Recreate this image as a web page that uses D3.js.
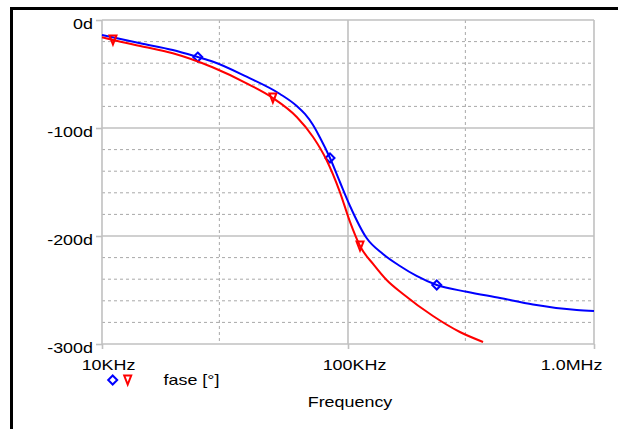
<!DOCTYPE html>
<html>
<head>
<meta charset="utf-8">
<script src="https://cdn.jsdelivr.net/npm/d3@7"></script>
<style>
  html, body { margin: 0; padding: 0; background: #fff; }
  svg { display: block; }
  text { font-family: Arial, "Liberation Sans", sans-serif; fill: #000; }
</style>
</head>
<body>
<svg id="chart" width="618" height="429"></svg>
<script>
// Frequency response phase (degrees) of two circuits
const blueFreq  = [10000, 14300, 19400, 24500, 28300, 38700, 52900, 61900, 66800, 72100, 76900, 84500, 92700, 101900, 119000, 138700, 162600, 190000, 229500, 303800, 415000, 565000, 851000, 1000000];
const bluePhase = [-13.9, -21.6, -27.8, -34.3, -38.6, -52.5, -68.5, -79.6, -87.0, -97.2, -108.8, -127.8, -150.0, -172.2, -201.9, -216.7, -227.8, -237.0, -245.4, -251.6, -257.4, -263.4, -268.5, -269.4];
const blueMarks = [24500, 84500, 229500];

const redFreq  = [10000, 11080, 14300, 19400, 28300, 38700, 49500, 61900, 72100, 81800, 92700, 101900, 111900, 127600, 143600, 167400, 221600, 285000, 354000];
const redPhase = [-16.0, -18.5, -24.1, -30.8, -44.0, -58.6, -72.2, -89.8, -108.3, -129.6, -159.3, -187.0, -209.3, -226.9, -240.7, -253.7, -274.1, -288.9, -298.1];
const redMarks = [11080, 49500, 111900];

const xMajor = [1e4, 1e5, 1e6];
const xMajorLabels = ["10KHz", "100KHz", "1.0MHz"];
const xMinor = [3e4, 3e5];
const yMajor = [0, -100, -200, -300];
const yMajorLabels = ["0d", "-100d", "-200d", "-300d"];
const yMinor = [-20, -40, -60, -80, -120, -140, -160, -180, -220, -240, -260, -280];

const legendLabel = "fase [°]";
const xTitle = "Frequency";

const series = [
  { freq: blueFreq, phase: bluePhase, marks: blueMarks, color: "#0000ff", shape: "diamond" },
  { freq: redFreq,  phase: redPhase,  marks: redMarks,  color: "#ff0000", shape: "triangle" }
];

const svg = d3.select("#chart");
const pL = 102, pR = 594, pT = 20, pB = 344;
const SX = 1.28;   // horizontal stretch of the label glyphs
const FS = 14;

const x = d3.scaleLog().domain([1e4, 1e6]).range([pL, pR]);
const y = d3.scaleLinear().domain([0, -300]).range([pT, pB]);

// outer black frame (left and top edges)
svg.append("path")
  .attr("d", "M11.5,429V8.5H618")
  .attr("fill", "none").attr("stroke", "#000").attr("stroke-width", 3);

const grid = svg.append("g");
// dotted minor grid
grid.selectAll("line.hmin").data(yMinor).join("line")
  .attr("x1", pL).attr("x2", pR)
  .attr("y1", d => y(d)).attr("y2", d => y(d))
  .attr("stroke", "#a8a8a8").attr("stroke-width", 1).attr("stroke-dasharray", "3,3");
grid.selectAll("line.vmin").data(xMinor).join("line")
  .attr("x1", d => x(d)).attr("x2", d => x(d))
  .attr("y1", pT).attr("y2", pB)
  .attr("stroke", "#a8a8a8").attr("stroke-width", 1).attr("stroke-dasharray", "3,3");

// solid major grid
grid.selectAll("line.hmaj").data(yMajor).join("line")
  .attr("x1", pL).attr("x2", pR)
  .attr("y1", d => y(d)).attr("y2", d => y(d))
  .attr("stroke", "#c0c0c0").attr("stroke-width", 1.6);
grid.selectAll("line.vmaj").data(xMajor).join("line")
  .attr("x1", d => x(d)).attr("x2", d => x(d))
  .attr("y1", pT).attr("y2", pB)
  .attr("stroke", "#c0c0c0").attr("stroke-width", 1.6);

// axes
const yAxis = d3.axisLeft(y).tickValues(yMajor).tickSize(6).tickFormat((d, i) => yMajorLabels[i]);
const gy = svg.append("g").attr("transform", `translate(${pL},0)`).call(yAxis);
gy.select(".domain").remove();
gy.selectAll(".tick line").attr("stroke", "#c0c0c0").attr("stroke-width", 1.6);
gy.selectAll(".tick text")
  .attr("x", null).attr("dy", null)
  .attr("font-size", FS).attr("text-anchor", "end")
  .attr("transform", `translate(-9,8.5) scale(${SX},1)`);

const xAxis = d3.axisBottom(x).tickValues(xMajor).tickSize(5).tickFormat((d, i) => xMajorLabels[i]);
const gx = svg.append("g").attr("transform", `translate(0,${pB})`).call(xAxis);
gx.select(".domain").remove();
gx.selectAll(".tick line").attr("stroke", "#c0c0c0").attr("stroke-width", 1.6);
gx.selectAll(".tick text")
  .attr("y", null).attr("dy", null)
  .attr("font-size", FS)
  .attr("text-anchor", (d, i) => i === xMajor.length - 1 ? "end" : "middle")
  .attr("transform", (d, i) => i === xMajor.length - 1
      ? `translate(8,26) scale(${SX},1)`
      : `translate(6,26) scale(${SX},1)`);

// marker shapes
function markerPath(shape, cx, cy) {
  if (shape === "diamond") {
    const r = 4.5;
    return `M${cx},${cy - r}L${cx + r},${cy}L${cx},${cy + r}L${cx - r},${cy}Z`;
  }
  const w = 3.5, h = 4.5;
  return `M${cx - w},${cy - h}L${cx + w},${cy - h}L${cx},${cy + h}Z`;
}

// curves
const plot = svg.append("g");
series.forEach(s => {
  const pts = s.freq.map((f, i) => [f, s.phase[i]]);
  const line = d3.line().x(d => x(d[0])).y(d => y(d[1])).curve(d3.curveMonotoneX);
  plot.append("path").datum(pts)
    .attr("d", line)
    .attr("fill", "none").attr("stroke", s.color).attr("stroke-width", 2);
  plot.selectAll(null).data(s.marks).join("path")
    .attr("d", f => markerPath(s.shape, x(f), y(s.phase[s.freq.indexOf(f)])))
    .attr("fill", "none").attr("stroke", s.color).attr("stroke-width", 2);
});

// legend
const legendX = [112.7, 127.7];
series.forEach((s, i) => {
  svg.append("path")
    .attr("d", markerPath(s.shape, legendX[i], 380))
    .attr("fill", "none").attr("stroke", s.color).attr("stroke-width", 2);
});
svg.append("text")
  .attr("font-size", FS)
  .attr("transform", `translate(163.5,385) scale(${SX},1)`)
  .text(legendLabel);

// x-axis title
svg.append("text")
  .attr("font-size", FS).attr("text-anchor", "middle")
  .attr("transform", `translate(350,406.5) scale(${SX},1)`)
  .text(xTitle);
</script>
</body>
</html>
